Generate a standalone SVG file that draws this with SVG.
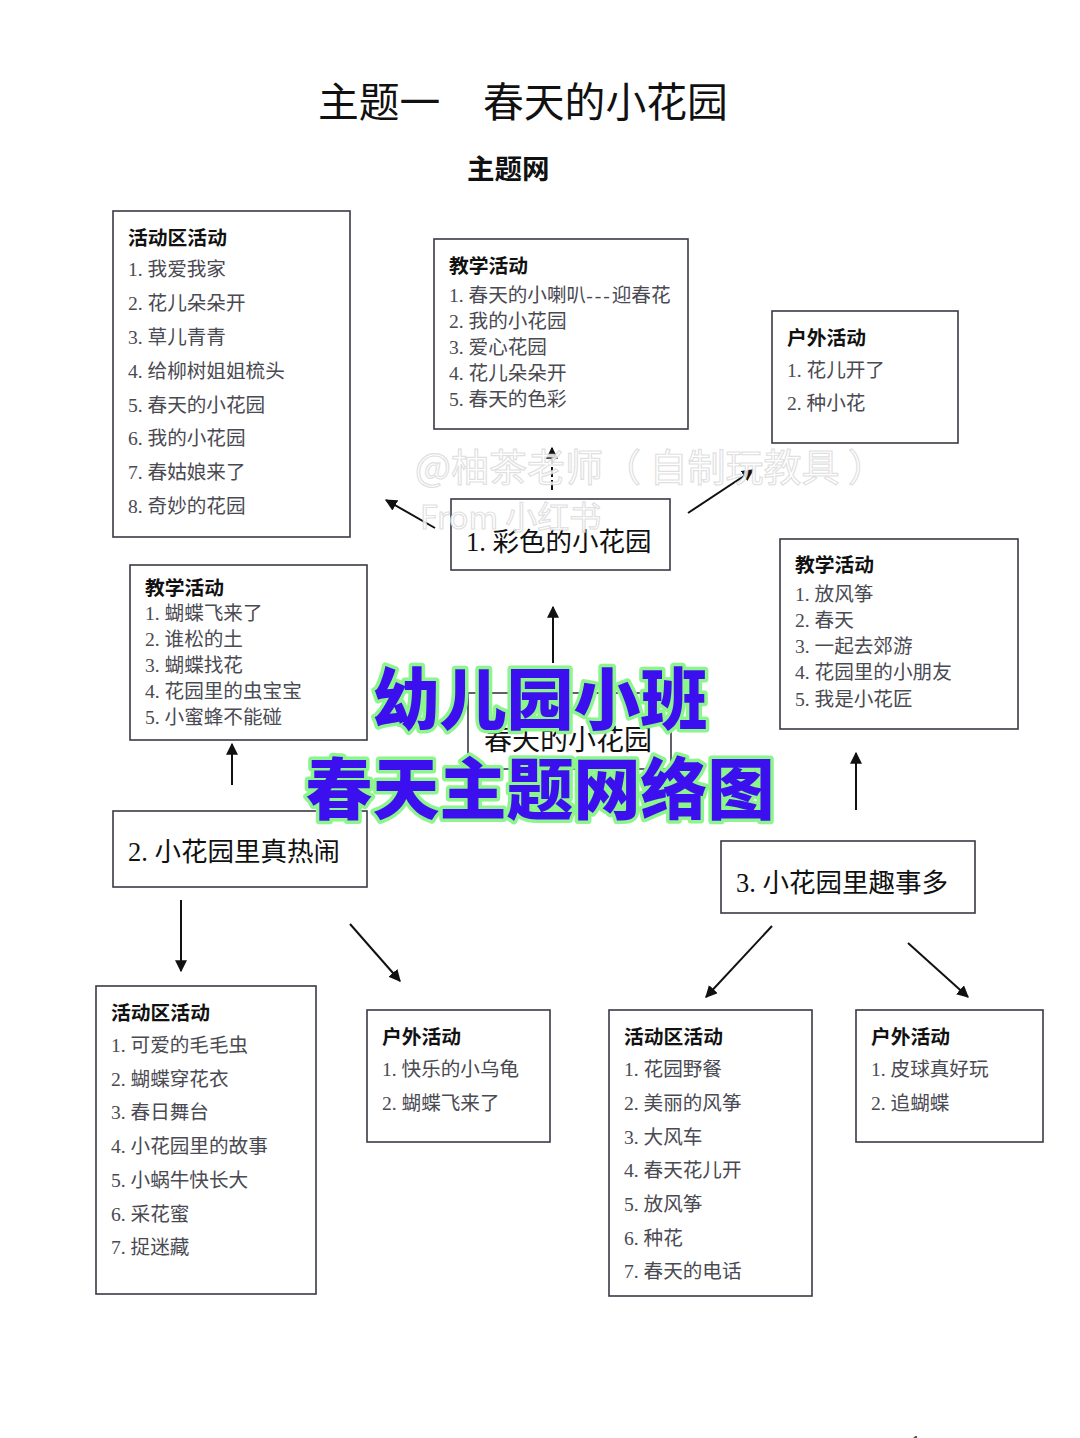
<svg xmlns="http://www.w3.org/2000/svg" width="1080" height="1438" viewBox="0 0 1080 1438">
<style>
.bx{fill:#fff;stroke:#3a3a48;stroke-width:1.6}
.hd{font-family:"Noto Sans CJK SC","Noto Sans",sans-serif;font-weight:700;font-size:19.8px;fill:#111;dominant-baseline:central}
.it{font-family:"Liberation Serif","Noto Sans CJK SC",serif;font-size:19.6px;fill:#4a4a52;dominant-baseline:central}
.lb{font-family:"Liberation Serif","Noto Sans CJK SC",serif;font-size:26.5px;fill:#111;dominant-baseline:central}
.ar{stroke:#111;stroke-width:2;fill:none;marker-end:url(#ah)}
.ov{font-family:"Noto Sans CJK SC",sans-serif;font-weight:900;font-size:67px;fill:#3c10ee;stroke:#8cf58c;stroke-width:7;paint-order:stroke;stroke-linejoin:round;text-anchor:middle}
.wm{font-family:"Noto Sans CJK SC",sans-serif;fill:#fff;fill-opacity:0.85;stroke:#d8d8d8;stroke-width:1.2;stroke-opacity:0.8}
</style>
<defs>
<marker id="ah" viewBox="0 0 10 10" refX="9" refY="5" markerWidth="6" markerHeight="6" orient="auto-start-reverse" markerUnits="strokeWidth">
<path d="M0,0 L10,5 L0,10 z" fill="#111"/>
</marker>
</defs>
<rect width="1080" height="1438" fill="#fff"/>
<g id="title">
<text x="318" y="99" style="font-family:'Noto Sans CJK SC',sans-serif;font-size:40.8px;fill:#111;dominant-baseline:central">主题一</text>
<text x="483" y="99" style="font-family:'Noto Sans CJK SC',sans-serif;font-size:40.8px;fill:#111;dominant-baseline:central">春天的小花园</text>
<text x="467" y="167" style="font-family:'Noto Sans CJK SC',sans-serif;font-weight:700;font-size:27.5px;fill:#111;dominant-baseline:central">主题网</text>
</g>
<g id="connectors">
<line class="ar" x1="435" y1="528" x2="386" y2="500"/>
<line class="ar" x1="552" y1="490" x2="552" y2="448" stroke-dasharray="10,3"/>
<line class="ar" x1="688" y1="513" x2="753" y2="470"/>
<line class="ar" x1="553" y1="663" x2="553" y2="607"/>
<line class="ar" x1="232" y1="785" x2="232" y2="744"/>
<line class="ar" x1="181" y1="900" x2="181" y2="971"/>
<line class="ar" x1="350" y1="924" x2="400" y2="981"/>
<line class="ar" x1="856" y1="810" x2="856" y2="753"/>
<line class="ar" x1="772" y1="926" x2="706" y2="997"/>
<line class="ar" x1="908" y1="943" x2="968" y2="997"/>
</g>
<g id="n-a">
<rect class="bx" x="113" y="211" width="237" height="326"/>
<text class="hd" x="128" y="236">活动区活动</text>
<text class="it" x="128" y="269">1. 我爱我家</text>
<text class="it" x="128" y="303">2. 花儿朵朵开</text>
<text class="it" x="128" y="337">3. 草儿青青</text>
<text class="it" x="128" y="371">4. 给柳树姐姐梳头</text>
<text class="it" x="128" y="405">5. 春天的小花园</text>
<text class="it" x="128" y="438">6. 我的小花园</text>
<text class="it" x="128" y="472">7. 春姑娘来了</text>
<text class="it" x="128" y="506">8. 奇妙的花园</text>
</g>
<g id="n-b">
<rect class="bx" x="434" y="239" width="254" height="190"/>
<text class="hd" x="449" y="264">教学活动</text>
<text class="it" x="449" y="295">1. 春天的小喇叭<tspan letter-spacing="2">---</tspan>迎春花</text>
<text class="it" x="449" y="321">2. 我的小花园</text>
<text class="it" x="449" y="347">3. 爱心花园</text>
<text class="it" x="449" y="373">4. 花儿朵朵开</text>
<text class="it" x="449" y="399">5. 春天的色彩</text>
</g>
<g id="n-c">
<rect class="bx" x="772" y="311" width="186" height="132"/>
<text class="hd" x="787" y="336">户外活动</text>
<text class="it" x="787" y="370">1. 花儿开了</text>
<text class="it" x="787" y="403">2. 种小花</text>
</g>
<g id="n-d">
<rect class="bx" x="451" y="499" width="219" height="71"/>
<text class="lb" x="466" y="542">1. 彩色的小花园</text>
</g>
<g id="n-e">
<rect class="bx" x="130" y="565" width="237" height="175"/>
<text class="hd" x="145" y="586">教学活动</text>
<text class="it" x="145" y="613">1. 蝴蝶飞来了</text>
<text class="it" x="145" y="639">2. 谁松的土</text>
<text class="it" x="145" y="665">3. 蝴蝶找花</text>
<text class="it" x="145" y="691">4. 花园里的虫宝宝</text>
<text class="it" x="145" y="717">5. 小蜜蜂不能碰</text>
</g>
<g id="n-f">
<rect class="bx" x="780" y="539" width="238" height="190"/>
<text class="hd" x="795" y="563">教学活动</text>
<text class="it" x="795" y="594">1. 放风筝</text>
<text class="it" x="795" y="620">2. 春天</text>
<text class="it" x="795" y="646">3. 一起去郊游</text>
<text class="it" x="795" y="672">4. 花园里的小朋友</text>
<text class="it" x="795" y="699">5. 我是小花匠</text>
</g>
<g id="n-center">
<rect class="bx" x="468" y="693" width="203" height="76"/>
<text x="568" y="738" style="font-family:'Noto Sans CJK SC',sans-serif;font-size:28px;fill:#111;dominant-baseline:central;text-anchor:middle">春天的小花园</text>
</g>
<g id="n-g">
<rect class="bx" x="113" y="811" width="254" height="76"/>
<text class="lb" x="128" y="852">2. 小花园里真热闹</text>
</g>
<g id="n-h">
<rect class="bx" x="721" y="841" width="254" height="72"/>
<text class="lb" x="736" y="883">3. 小花园里趣事多</text>
</g>
<g id="n-i">
<rect class="bx" x="96" y="986" width="220" height="308"/>
<text class="hd" x="111" y="1011">活动区活动</text>
<text class="it" x="111" y="1045">1. 可爱的毛毛虫</text>
<text class="it" x="111" y="1079">2. 蝴蝶穿花衣</text>
<text class="it" x="111" y="1112">3. 春日舞台</text>
<text class="it" x="111" y="1146">4. 小花园里的故事</text>
<text class="it" x="111" y="1180">5. 小蜗牛快长大</text>
<text class="it" x="111" y="1214">6. 采花蜜</text>
<text class="it" x="111" y="1247">7. 捉迷藏</text>
</g>
<g id="n-j">
<rect class="bx" x="367" y="1010" width="183" height="132"/>
<text class="hd" x="382" y="1035">户外活动</text>
<text class="it" x="382" y="1069">1. 快乐的小乌龟</text>
<text class="it" x="382" y="1103">2. 蝴蝶飞来了</text>
</g>
<g id="n-k">
<rect class="bx" x="609" y="1010" width="203" height="286"/>
<text class="hd" x="624" y="1035">活动区活动</text>
<text class="it" x="624" y="1069">1. 花园野餐</text>
<text class="it" x="624" y="1103">2. 美丽的风筝</text>
<text class="it" x="624" y="1137">3. 大风车</text>
<text class="it" x="624" y="1170">4. 春天花儿开</text>
<text class="it" x="624" y="1204">5. 放风筝</text>
<text class="it" x="624" y="1238">6. 种花</text>
<text class="it" x="624" y="1271">7. 春天的电话</text>
</g>
<g id="n-l">
<rect class="bx" x="856" y="1010" width="187" height="132"/>
<text class="hd" x="871" y="1035">户外活动</text>
<text class="it" x="871" y="1069">1. 皮球真好玩</text>
<text class="it" x="871" y="1103">2. 追蝴蝶</text>
</g>
<g id="overlay">
<text class="ov" x="540" y="724">幼儿园小班</text>
<text class="ov" x="540" y="814">春天主题网络图</text>
</g>
<g id="watermark">
<text class="wm" x="415" y="481" font-size="38">@柚茶老师（ 自制玩教具 ）</text>
<text class="wm" x="420" y="529" font-size="32">From 小红书</text>
</g>
<text x="912" y="1446" style="font-family:'Liberation Sans',sans-serif;font-size:14px;fill:#333">1</text>
</svg>
